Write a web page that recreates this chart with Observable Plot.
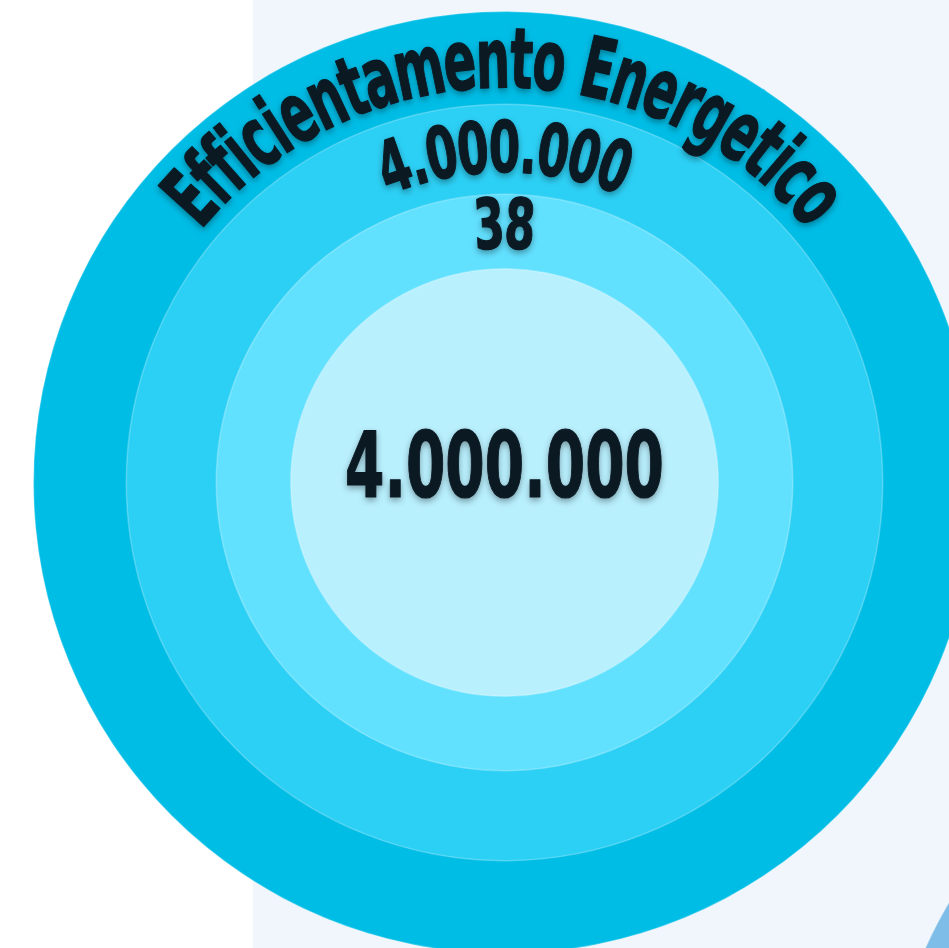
<!DOCTYPE html>
<html><head><meta charset="utf-8">
<script src="https://cdn.jsdelivr.net/npm/d3@7"></script>
<script src="https://cdn.jsdelivr.net/npm/@observablehq/plot@0.6"></script>
<style>
html,body{margin:0;padding:0;}
body{width:949px;height:948px;overflow:hidden;background:linear-gradient(to right,#ffffff 253px,#f1f6fd 253px);}
#chart svg{display:block;background:transparent;}
g[aria-label="text"]{filter:drop-shadow(0px 3px 3px rgba(0,0,0,0.35));}
</style></head><body><div id="chart"></div>
<script>
// ---- data ----
const ringLabels = ["Efficientamento Energetico", "4.000.000", "38", "4.000.000"];
const ringSize = [100, 80.3, 61.2, 45.4];          // relative ring radius (outer = 100)
const ringColors = ["#00bde6", "#2dd0f5", "#62e1ff", "#b9f0fe"];
const neighbourSize = [100];
const neighbourColor = "#7dbde8";

// ---- layout ----
const W = 949, H = 948;
const PX = 4.71;             // pixels per unit
const CX = 504, CY = 482;    // centre of main bubble in px
const FAMILY = "'Liberation Sans Narrow', 'DejaVu Sans Condensed', sans-serif";
const INK = "#0b1923";
const labelSizes = [84, 72, 70, 90];     // font sizes: 3 arc labels + centre
const labelSX = [0.635, 0.70, 0.70, 0.70]; // horizontal squeeze (condensed display face look)
const labelNudge = [-0.6, 0, 1.2];         // radial nudge in units

const rings = ringSize.map((r, i) => ({level: i, r, label: ringLabels[i]}));
const ctx = document.createElement("canvas").getContext("2d");

function arcChars(label, radius, size, sx) {
  ctx.font = `bold ${size}px ${FAMILY}`;
  const chars = [...label];
  const widths = chars.map(c => ctx.measureText(c).width * sx);
  const total = d3.sum(widths);
  const Rpx = radius * PX;
  let acc = -total / 2;
  return chars.map((c, i) => {
    const mid = acc + widths[i] / 2; acc += widths[i];
    const a = mid / Rpx;
    return {ch: c, x: radius * Math.sin(a), y: radius * Math.cos(a), rotate: a * 180 / Math.PI};
  });
}
const bandMid = i => (ringSize[i] + ringSize[i + 1]) / 2 + labelNudge[i];
const textStyle = {fontFamily: FAMILY, fontWeight: "bold", fill: INK, stroke: INK, strokeWidth: 1.2,
  textAnchor: "middle", lineAnchor: "middle"};
const arcMarks = [0, 1, 2].map(i =>
  Plot.text(arcChars(ringLabels[i], bandMid(i), labelSizes[i], labelSX[i]), {
    x: "x", y: "y", text: "ch", rotate: "rotate", fontSize: labelSizes[i], ...textStyle
  })
);

const chart = Plot.plot({
  width: W, height: H, margin: 0,
  style: {background: "transparent"},
  x: {domain: [-CX / PX, (W - CX) / PX], axis: null},
  y: {domain: [(CY - H) / PX, CY / PX], axis: null},
  r: {type: "linear", domain: [0, 100], range: [0, 100 * PX]},
  color: {type: "ordinal", domain: [0, 1, 2, 3], range: ringColors},
  marks: [
    Plot.dot(neighbourSize, {x: () => 180.5, y: () => -140, r: d => d, fill: neighbourColor, stroke: "white", strokeOpacity: 0.25}),
    Plot.dot(rings, {x: () => 0, y: () => 0, r: "r", fill: "level", stroke: "white", strokeOpacity: 0.25, strokeWidth: 1.5}),
    ...arcMarks,
    Plot.text([ringLabels[3]], {x: () => 0, y: () => 0, dy: -14, text: d => d, fontSize: labelSizes[3], ...textStyle})
  ]
});
// squeeze glyphs horizontally
d3.select(chart).selectAll('g[aria-label="text"]').each(function (_, gi) {
  const sx = labelSX[gi];
  d3.select(this).selectAll("text").each(function () {
    const t = d3.select(this);
    const tr = t.attr("transform");
    if (tr) t.attr("transform", tr + ` scale(${sx},1)`);
    else {
      const x = +t.attr("x") || 0, y = +t.attr("y") || 0;
      t.attr("x", null).attr("y", null).attr("transform", `translate(${x},${y}) scale(${sx},1)`);
    }
  });
});
document.getElementById("chart").appendChild(chart);
</script></body></html>
